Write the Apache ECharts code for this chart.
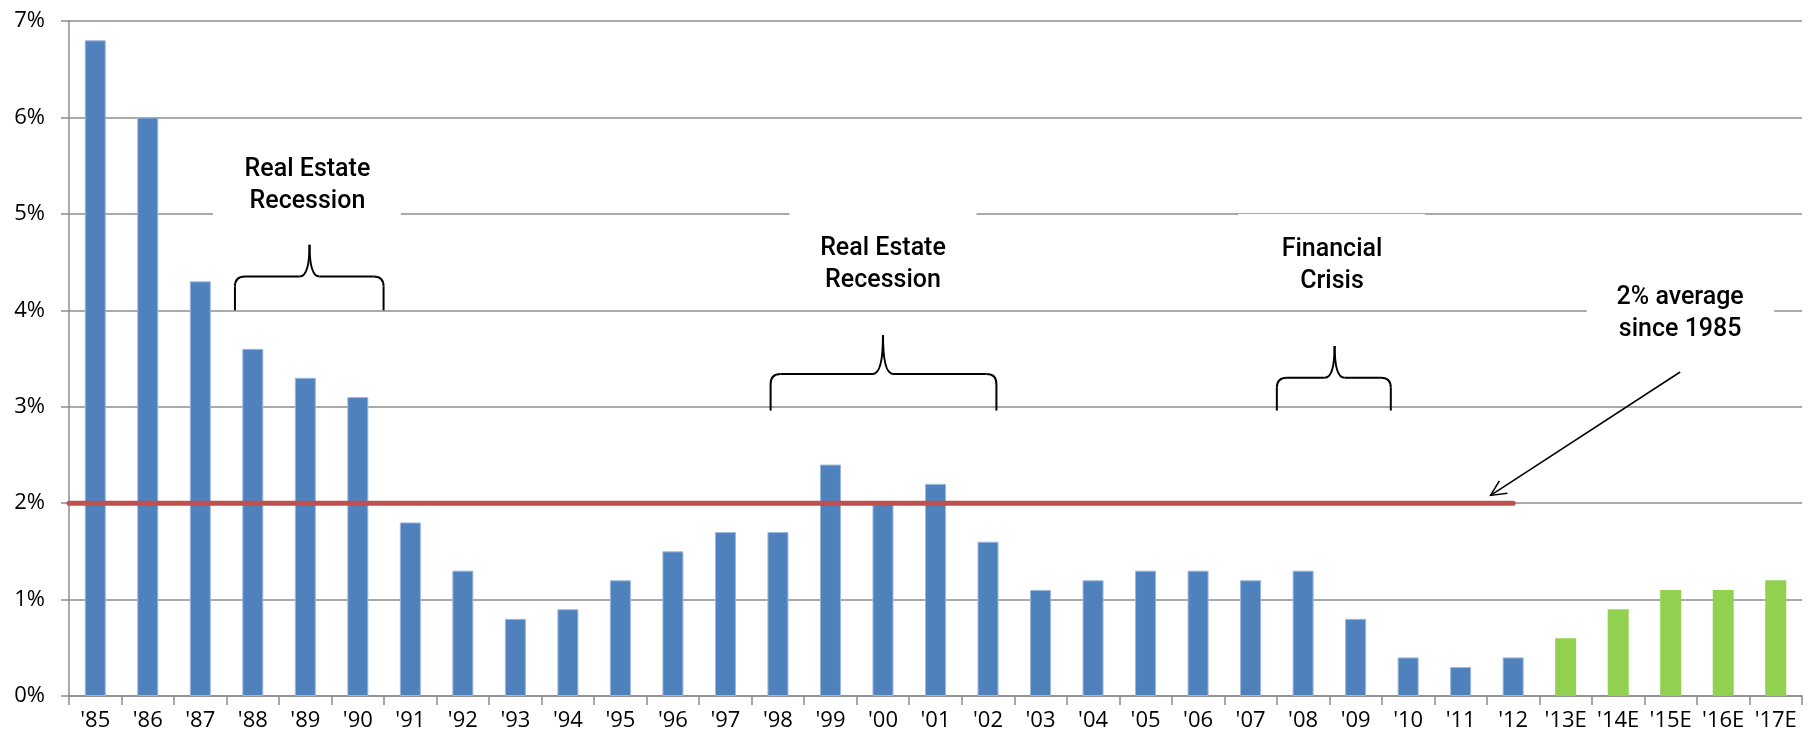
<!DOCTYPE html>
<html>
<head>
<meta charset="utf-8">
<script src="https://cdn.jsdelivr.net/npm/echarts@6/dist/echarts.min.js"></script>
<style>
html,body{margin:0;padding:0;background:#fff;}
#chart{width:1810px;height:742px;}
</style>
</head>
<body>
<div id="chart"></div>
<script>
// ---- data ----
const years = ["'85","'86","'87","'88","'89","'90","'91","'92","'93","'94","'95","'96","'97","'98","'99","'00","'01","'02","'03","'04","'05","'06","'07","'08","'09","'10","'11","'12","'13E","'14E","'15E","'16E","'17E"];
const actualValues = [6.8,6.0,4.3,3.6,3.3,3.1,1.8,1.3,0.8,0.9,1.2,1.5,1.7,1.7,2.4,2.0,2.2,1.6,1.1,1.2,1.3,1.3,1.2,1.3,0.8,0.4,0.3,0.4];
const estimateValues = [0.6,0.9,1.1,1.1,1.2];
const yTickValues = [0,1,2,3,4,5,6,7];
const averageValue = 2;
const averageEndYear = "'12";
const annotationTexts = ["Real Estate\nRecession","Real Estate\nRecession","Financial\nCrisis","2% average\nsince 1985"];

// ---- annotation placement (axis units) ----
const textAnchors = [[4.04,5.31,2.24,5.82],[15.0,4.49,13.22,16.78],[23.55,4.48,21.76,25.32],[30.18,3.99,28.4,31.97]];
const bracketSpecs = [
  {l:2.66,r:5.49,t:4.08,base:4.0,h:4.35,tip:4.68},
  {l:12.86,r:17.16,t:15.0,base:2.96,h:3.34,tip:3.74},
  {l:22.5,r:24.67,t:23.6,base:2.96,h:3.30,tip:3.63}
];
const arrowSpec = {from:[30.18,3.36], to:[26.57,2.08]};

const BLUE = '#4F81BD', GREEN = '#92D050', RED = '#C0504D', GRID = '#8C8C8C';
const barData = actualValues.map(v => ({value:v, itemStyle:{color:BLUE, borderColor:'#9DB8DA', borderWidth:1}}))
  .concat(estimateValues.map(v => ({value:v, itemStyle:{color:GREEN}})));
const avgEndIdx = years.indexOf(averageEndYear);

const chart = echarts.init(document.getElementById('chart'));
chart.setOption({
  animation:false,
  backgroundColor:'#fff',
  grid:{left:69, right:8, top:21, bottom:46},
  xAxis:[{
    type:'category', data:years, boundaryGap:true,
    axisLine:{onZero:false, lineStyle:{color:GRID, width:1.5}},
    axisTick:{show:true, length:9, lineStyle:{color:GRID, width:1.5}},
    axisLabel:{color:'#000', fontFamily:'Open Sans', fontSize:22, margin:14, interval:0}
  },{
    type:'value', min:-0.5, max:years.length-0.5, show:false,
    axisLine:{show:false, onZero:false}, axisTick:{show:false}, splitLine:{show:false}, axisLabel:{show:false}
  }],
  yAxis:{
    type:'value', min:yTickValues[0], max:yTickValues[yTickValues.length-1], interval:1,
    axisLine:{show:true, onZero:false, lineStyle:{color:GRID, width:1.5}},
    axisTick:{show:true, length:8, lineStyle:{color:GRID, width:1.5}},
    splitLine:{show:true, lineStyle:{color:GRID, width:1.5}},
    axisLabel:{color:'#000', fontFamily:'Open Sans', fontSize:22, margin:24, formatter:v=>v+'%'}
  },
  series:[{
    type:'bar', data:barData, barWidth:'40%', xAxisIndex:0
  },{
    type:'line', xAxisIndex:1, data:[[-0.5,averageValue],[avgEndIdx,averageValue]],
    symbol:'none', lineStyle:{color:RED, width:5, cap:'round'}, z:5
  }]
});

function px(x,y){ return chart.convertToPixel({xAxisIndex:1, yAxisIndex:0}, [x,y]); }
const graphics = [];
const stroke = {stroke:'#000', lineWidth:2, fill:null};
function seg(x1,y1,x2,y2){ graphics.push({type:'line', z:102, shape:{x1,y1,x2,y2}, style:stroke}); }
function curve(x1,y1,cx,cy,x2,y2){ graphics.push({type:'bezierCurve', z:102, shape:{x1,y1,x2,y2,cpx1:cx,cpy1:cy}, style:stroke}); }
textAnchors.forEach((a,i)=>{
  const c = px(a[0],a[1]);
  const l = px(a[2],a[1])[0], r = px(a[3],a[1])[0];
  graphics.push({type:'rect', z:100, shape:{x:l, y:c[1]-50, width:r-l, height:96}, style:{fill:'#fff'}});
  graphics.push({type:'text', z:101, x:c[0], y:c[1]+2, style:{text:annotationTexts[i], fill:'#000', font:'500 25px Roboto', align:'center', verticalAlign:'middle', lineHeight:32}});
});
bracketSpecs.forEach(b=>{
  const xl = px(b.l,0)[0], xr = px(b.r,0)[0], xt = px(b.t,0)[0];
  const yb = px(0,b.base)[1], yh = px(0,b.h)[1], yt = px(0,b.tip)[1];
  const r = 10;
  seg(xl,yb,xl,yh+r);
  curve(xl,yh+r,xl,yh,xl+r,yh);
  seg(xl+r,yh,xt-r,yh);
  curve(xt-r,yh,xt,yh,xt,yt);
  curve(xt,yt,xt,yh,xt+r,yh);
  seg(xt+r,yh,xr-r,yh);
  curve(xr-r,yh,xr,yh,xr,yh+r);
  seg(xr,yh+r,xr,yb);
});
(function(){
  const s = px(arrowSpec.from[0],arrowSpec.from[1]), e = px(arrowSpec.to[0],arrowSpec.to[1]);
  const ang = Math.atan2(e[1]-s[1], e[0]-s[0]);
  const L = 17, sp = 0.45;
  const p1 = [e[0]-L*Math.cos(ang-sp), e[1]-L*Math.sin(ang-sp)];
  const p2 = [e[0]-L*Math.cos(ang+sp), e[1]-L*Math.sin(ang+sp)];
  graphics.push({type:'line', z:102, shape:{x1:s[0],y1:s[1],x2:e[0],y2:e[1]}, style:{stroke:'#000', lineWidth:1.5}});
  graphics.push({type:'polyline', z:102, shape:{points:[p1,e,p2]}, style:{fill:null, stroke:'#000', lineWidth:1.5}});
})();
chart.setOption({graphic:graphics});
</script>
</body>
</html>
